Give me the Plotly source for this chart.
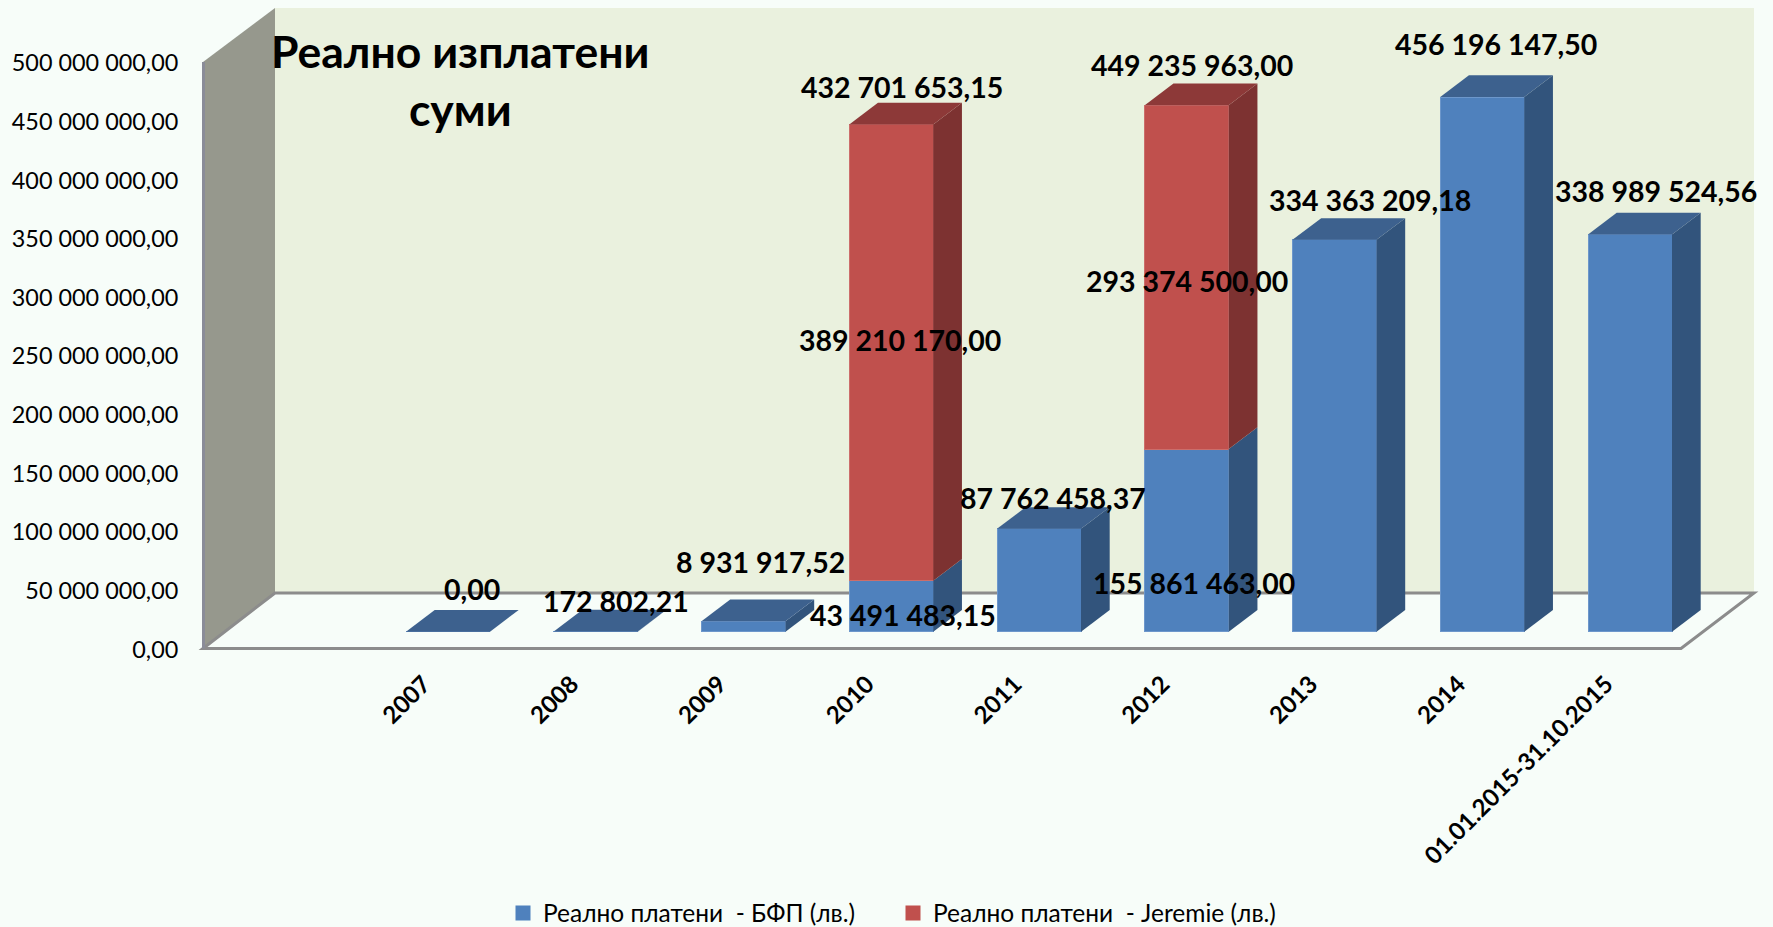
import plotly.graph_objects as go

# ---------- data ----------
categories = ["", "2007", "2008", "2009", "2010", "2011", "2012", "2013", "2014", "01.01.2015-31.10.2015"]
bfp_values = [None, 0.00, 172802.21, 8931917.52, 43491483.15, 87762458.37, 155861463.00, 334363209.18, 456196147.50, 338989524.56]
jeremie_values = [None, None, None, None, 389210170.00, None, 293374500.00, None, None, None]
totals = [None, None, None, None, 432701653.15, None, 449235963.00, None, None, None]
y_ticks = [0, 50e6, 100e6, 150e6, 200e6, 250e6, 300e6, 350e6, 400e6, 450e6, 500e6]
y_tick_labels = ["0,00", "50 000 000,00", "100 000 000,00", "150 000 000,00", "200 000 000,00",
                 "250 000 000,00", "300 000 000,00", "350 000 000,00", "400 000 000,00",
                 "450 000 000,00", "500 000 000,00"]
series_names = ["Реално платени  - БФП (лв.)", "Реално платени  - Jeremie (лв.)"]
title_text = "Реално изплатени<br>суми"

# ---------- geometry / style ----------
W, H = 1773, 927
FONT = "Lato, 'Open Sans', sans-serif"
BG = "#F7FDF9"
BACK_WALL = "#EAF1DE"
SIDE_WALL = "#96988D"
EDGE = "#8C8C8C"
BLUE, BLUE_SIDE, BLUE_TOP = "#4F81BD", "#32547C", "#3D618E"
RED, RED_SIDE, RED_TOP = "#C0504D", "#7D3231", "#8D3938"

X0_PX, X_STEP = 300.25, 147.75     # pixel of category 0 centre, pixels per category
Y0_PX, Y_SCALE = 631.7, 1.172e-6   # pixel of value 0, pixels per value unit
BAR_W = 84 / X_STEP
DX = 28.7 / X_STEP                 # bar depth in x units
DY = 21.7 / Y_SCALE                # bar depth in y units

FRONT_L, FRONT_R, FRONT_B, FRONT_T = 203, 1681, 648.5, 62
BACK_L, BACK_R, BACK_B, BACK_T = 275, 1754, 593, 8


def px(x):
    return x / W


def py(y):
    return 1 - y / H


def path(points):
    return "M " + " L ".join(f"{px(a):.5f},{py(b):.5f}" for a, b in points) + " Z"


shapes = [
    dict(type="path", xref="paper", yref="paper", layer="below", line=dict(width=0), fillcolor=BACK_WALL,
         path=path([(BACK_L, BACK_T), (BACK_R, BACK_T), (BACK_R, BACK_B), (BACK_L, BACK_B)])),
    dict(type="path", xref="paper", yref="paper", layer="below", line=dict(width=0), fillcolor=SIDE_WALL,
         path=path([(FRONT_L, FRONT_T), (BACK_L, BACK_T), (BACK_L, BACK_B), (FRONT_L, FRONT_B)])),
    dict(type="path", xref="paper", yref="paper", layer="below", fillcolor=BG,
         line=dict(color=EDGE, width=3),
         path=path([(FRONT_L, FRONT_B), (BACK_L, BACK_B), (BACK_R, BACK_B), (FRONT_R, FRONT_B)])),
    dict(type="line", xref="paper", yref="paper", layer="below", line=dict(color="#8A8C98", width=3),
         x0=px(FRONT_L + 0.5), x1=px(FRONT_L + 0.5), y0=py(FRONT_T), y1=py(FRONT_B)),
]

fig = go.Figure()
idx = list(range(len(categories)))

# Front faces, stacked through the library
fig.add_trace(go.Bar(x=idx, y=bfp_values, name=series_names[0], width=BAR_W, showlegend=False,
                     marker=dict(color=BLUE, line=dict(width=1, color="#6D97CB"))))
fig.add_trace(go.Bar(x=idx, y=jeremie_values, name=series_names[1], width=BAR_W, showlegend=False,
                     marker=dict(color=RED, line=dict(width=1, color="#CC6E6B"))))


def face(xs, ys, color):
    fig.add_trace(go.Scatter(x=xs, y=ys, mode="lines", fill="toself", fillcolor=color,
                             line=dict(width=0), showlegend=False, hoverinfo="skip"))


# Side and top faces, derived from the same values
for i in idx:
    b = bfp_values[i]
    if b is None:
        continue
    j = jeremie_values[i] or 0
    left, right = i - BAR_W / 2, i + BAR_W / 2
    if b > 0:
        face([right, right + DX, right + DX, right], [0, DY, b + DY, b], BLUE_SIDE)
    if j:
        face([right, right + DX, right + DX, right], [b, b + DY, b + j + DY, b + j], RED_SIDE)
    top = b + j
    face([left, left + DX, right + DX, right], [top, top + DY, top + DY, top], RED_TOP if j else BLUE_TOP)

# Legend entries with the reference's larger square swatches
for name, color in zip(series_names, [BLUE, RED]):
    fig.add_trace(go.Scatter(x=[None], y=[None], mode="markers", name=name,
                             marker=dict(symbol="square", size=15, color=color)))

# Data labels: (category, anchor value, text value, x shift, y shift)
fmt = lambda v: f"{v:,.2f}".replace(",", " ").replace(".", ",")
label_spec = [
    (1, bfp_values[1], bfp_values[1], 23.5, 42.7),
    (2, bfp_values[2], bfp_values[2], 20.25, 31),
    (3, bfp_values[3], bfp_values[3], 16.5, 59),
    (4, bfp_values[4] / 2, bfp_values[4], 11.75, -9),
    (4, bfp_values[4] + jeremie_values[4] / 2, jeremie_values[4], 8.75, 12.6),
    (4, totals[4], totals[4], 10.75, 37.6),
    (5, bfp_values[5], bfp_values[5], 13.5, 31),
    (6, bfp_values[6] / 2, bfp_values[6], 7.25, -43),
    (6, bfp_values[6] + jeremie_values[6] / 2, jeremie_values[6], 0.25, -3.4),
    (6, totals[6], totals[6], 5.25, 40.7),
    (7, bfp_values[7], bfp_values[7], 35, 40),
    (8, bfp_values[8], bfp_values[8], 13.75, 53),
    (9, bfp_values[9], bfp_values[9], 25.5, 43),
]
annotations = [
    dict(x=c, y=a, xref="x", yref="y", text=f"<b>{fmt(v)}</b>", showarrow=False, xshift=sx, yshift=sy,
         font=dict(family=FONT, size=28.5, color="#000000"))
    for c, a, v, sx, sy in label_spec
]
annotations.append(dict(xref="paper", yref="paper", x=px(460), y=py(79), text=f"<b>{title_text}</b>",
                        showarrow=False, xanchor="center", yanchor="middle", align="center",
                        font=dict(family=FONT, size=44.5, color="#000000")))

fig.update_layout(
    width=W, height=H, autosize=False,
    margin=dict(l=0, r=0, t=0, b=0, autoexpand=False),
    paper_bgcolor=BG, plot_bgcolor="rgba(0,0,0,0)",
    barmode="stack",
    shapes=shapes, annotations=annotations,
    hovermode=False,
    font=dict(family=FONT, color="#000000"),
    xaxis=dict(visible=False, domain=[0, 1],
               range=[-X0_PX / X_STEP, (W - X0_PX) / X_STEP], fixedrange=True),
    yaxis=dict(visible=False, domain=[0, 1],
               range=[-(H - Y0_PX) / Y_SCALE, Y0_PX / Y_SCALE], fixedrange=True),
    xaxis2=dict(anchor="free", position=py(FRONT_B),
                domain=[px(FRONT_L - 1), px(FRONT_R - 1)], range=[-0.5, len(categories) - 0.5],
                tickmode="array", tickvals=idx, ticktext=categories, tickangle=-45,
                ticks="outside", ticklen=11, tickcolor="rgba(0,0,0,0)",
                showgrid=False, zeroline=False, showline=False, fixedrange=True,
                tickfont=dict(family=FONT, size=24, color="#000000", weight="bold")),
    yaxis2=dict(anchor="free", position=px(FRONT_L), side="left",
                domain=[py(FRONT_B + 1), py(FRONT_T + 1)], range=[0, 500e6],
                tickmode="array", tickvals=y_ticks, ticktext=y_tick_labels,
                ticks="outside", ticklen=20, tickcolor="rgba(0,0,0,0)",
                showgrid=False, zeroline=False, showline=False, fixedrange=True,
                tickfont=dict(family=FONT, size=23.4, color="#000000")),
    showlegend=True,
    legend=dict(orientation="h", x=px(503), y=py(913), xanchor="left", yanchor="middle",
                bgcolor="rgba(0,0,0,0)", font=dict(family=FONT, size=24.5, color="#000000"),
                entrywidth=345, entrywidthmode="pixels", traceorder="normal"),
)

# Invisible trace so the label axes are drawn
fig.add_trace(go.Scatter(x=[idx[0]], y=[0], xaxis="x2", yaxis="y2", mode="markers",
                         marker=dict(opacity=0), showlegend=False, hoverinfo="skip"))

# The page's default body margin would push the figure off its position
fig.write_html("out.html", config=dict(displayModeBar=False),
               post_script="document.body.style.margin='0';document.documentElement.style.overflow='hidden';")
